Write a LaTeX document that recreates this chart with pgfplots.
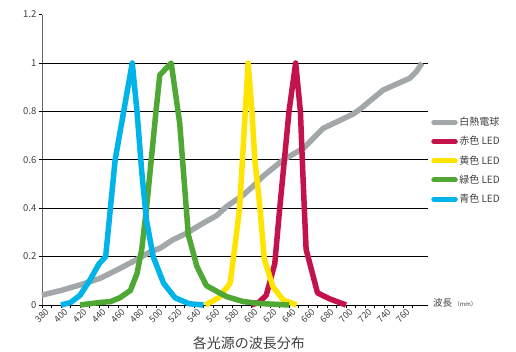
\documentclass[border=0pt]{standalone}
\usepackage{fontspec}
\setmainfont{Noto Sans CJK JP}
\usepackage{pgfplots}
\pgfplotsset{compat=1.18}
\definecolor{cgray}{HTML}{A2A7A9}
\definecolor{cred}{HTML}{C4124B}
\definecolor{cyellow}{HTML}{FFE400}
\definecolor{cgreen}{HTML}{4FA734}
\definecolor{cblue}{HTML}{00B3E8}
\definecolor{ctext}{HTML}{404040}
\begin{document}
\begin{tikzpicture}
\begin{axis}[
  at={(42pt,47pt)}, anchor=south west,
  scale only axis, width=386pt, height=290.4pt,
  xmin=380, xmax=786.3, ymin=0, ymax=1.2,
  axis x line=bottom, axis y line=left,
  axis line style={-},
  x axis line style={black, line width=0.8pt},
  y axis line style={gray!80!black, line width=0.8pt},
  xtick={380,400,...,760},
  minor xtick={390,410,...,780},
  ytick={0,0.2,...,1.2},
  yticklabels={0,0.2,0.4,0.6,0.8,1,1.2},
  tick align=outside,
  major tick length=3.5pt, minor tick length=3.5pt,
  every tick/.style={black, line width=0.6pt},
  /pgf/number format/assume math mode=true,
  /pgf/number format/1000 sep={},
  tick label style={font=\fontsize{9.5}{10}\selectfont, text=ctext},
  xticklabel style={rotate=45, anchor=north east, inner sep=0.5pt, xshift=3pt, yshift=-1pt, font=\fontsize{9}{10}\selectfont},
  yticklabel style={inner sep=2pt},
  extra y ticks={0.2,0.4,0.6,0.8,1},
  extra y tick labels={},
  extra y tick style={grid=major, major tick length=0pt},
  major grid style={black, line width=0.6pt},
  xlabel={各光源の波長分布},
  xlabel style={at={(0.536,-0.131)}, anchor=center, font=\fontsize{14}{16}\selectfont, text=ctext},
  legend style={at={(1.008,0.651)}, anchor=north west, draw=none, fill=none,
    font=\fontsize{10}{12}\selectfont, text=ctext, row sep=6.7pt, inner sep=0pt,
    nodes={inner sep=1.5pt, text height=8pt, text depth=1.5pt}},
  legend cell align=left,
  legend image code/.code={\draw[#1, line width=5pt, line cap=round] (2.5pt,0pt) -- (24pt,0pt);},
  every axis plot/.append style={line width=5.5pt, line join=round, no markers},
  clip=false,
]
\addplot[cgray] coordinates {
(380,0.041)(400,0.06)(420,0.083)(441,0.11)(459,0.145)(476,0.18)(494,0.22)(504,0.234)
(518,0.27)(532,0.296)(546,0.33)(564,0.37)(574,0.406)(592,0.455)(602,0.49)(612,0.53)
(634,0.6)(655,0.647)(676,0.73)(708,0.79)(715,0.81)(739,0.888)(767,0.937)(774,0.964)(780,1.0)};
\addlegendentry{白熱電球}
\addplot[cred] coordinates {
(600,0)(608,0.01)(616,0.04)(625,0.17)(630,0.39)(640,0.8)(647,1.0)(652,0.8)(655,0.5)
(658,0.23)(670,0.05)(683,0.025)(700,0)};
\addlegendentry{赤色 LED}
\addplot[cyellow] coordinates {
(552,0)(566,0.03)(578,0.09)(583,0.24)(588,0.4)(591,0.6)(594,0.8)(597,1.0)(601,0.8)
(604,0.6)(609,0.42)(614,0.19)(623,0.076)(634,0.02)(648,0)};
\addlegendentry{黄色 LED}
\addplot[cgreen] coordinates {
(420,0)(430,0.005)(440,0.01)(452,0.014)(462,0.03)(473,0.06)(480,0.13)(485,0.23)(490,0.4)
(495,0.6)(500,0.8)(504,0.95)(516,1.0)(525,0.75)(534,0.29)(543,0.16)(553,0.08)(574,0.035)
(592,0.014)(610,0.006)(630,0.002)(640,0)};
\addlegendentry{緑色 LED}
\addplot[cblue] coordinates {
(400,0)(410,0.01)(420,0.04)(430,0.1)(440,0.17)(447,0.2)(452,0.4)(457,0.6)(466,0.8)(475,1.0)
(480,0.8)(485,0.55)(490,0.35)(497,0.2)(508,0.09)(520,0.03)(535,0.005)(550,0)};
\addlegendentry{青色 LED}
\node[anchor=west, inner sep=0pt, text=ctext, font=\fontsize{9.5}{10}\selectfont] at (rel axis cs:1,0) [xshift=5pt, yshift=2pt] {波長\,{\fontsize{6}{7}\selectfont（mm）}};
\end{axis}
\pgfresetboundingbox
\path[use as bounding box] (0,0) rectangle (516pt,352pt);
\end{tikzpicture}
\end{document}
